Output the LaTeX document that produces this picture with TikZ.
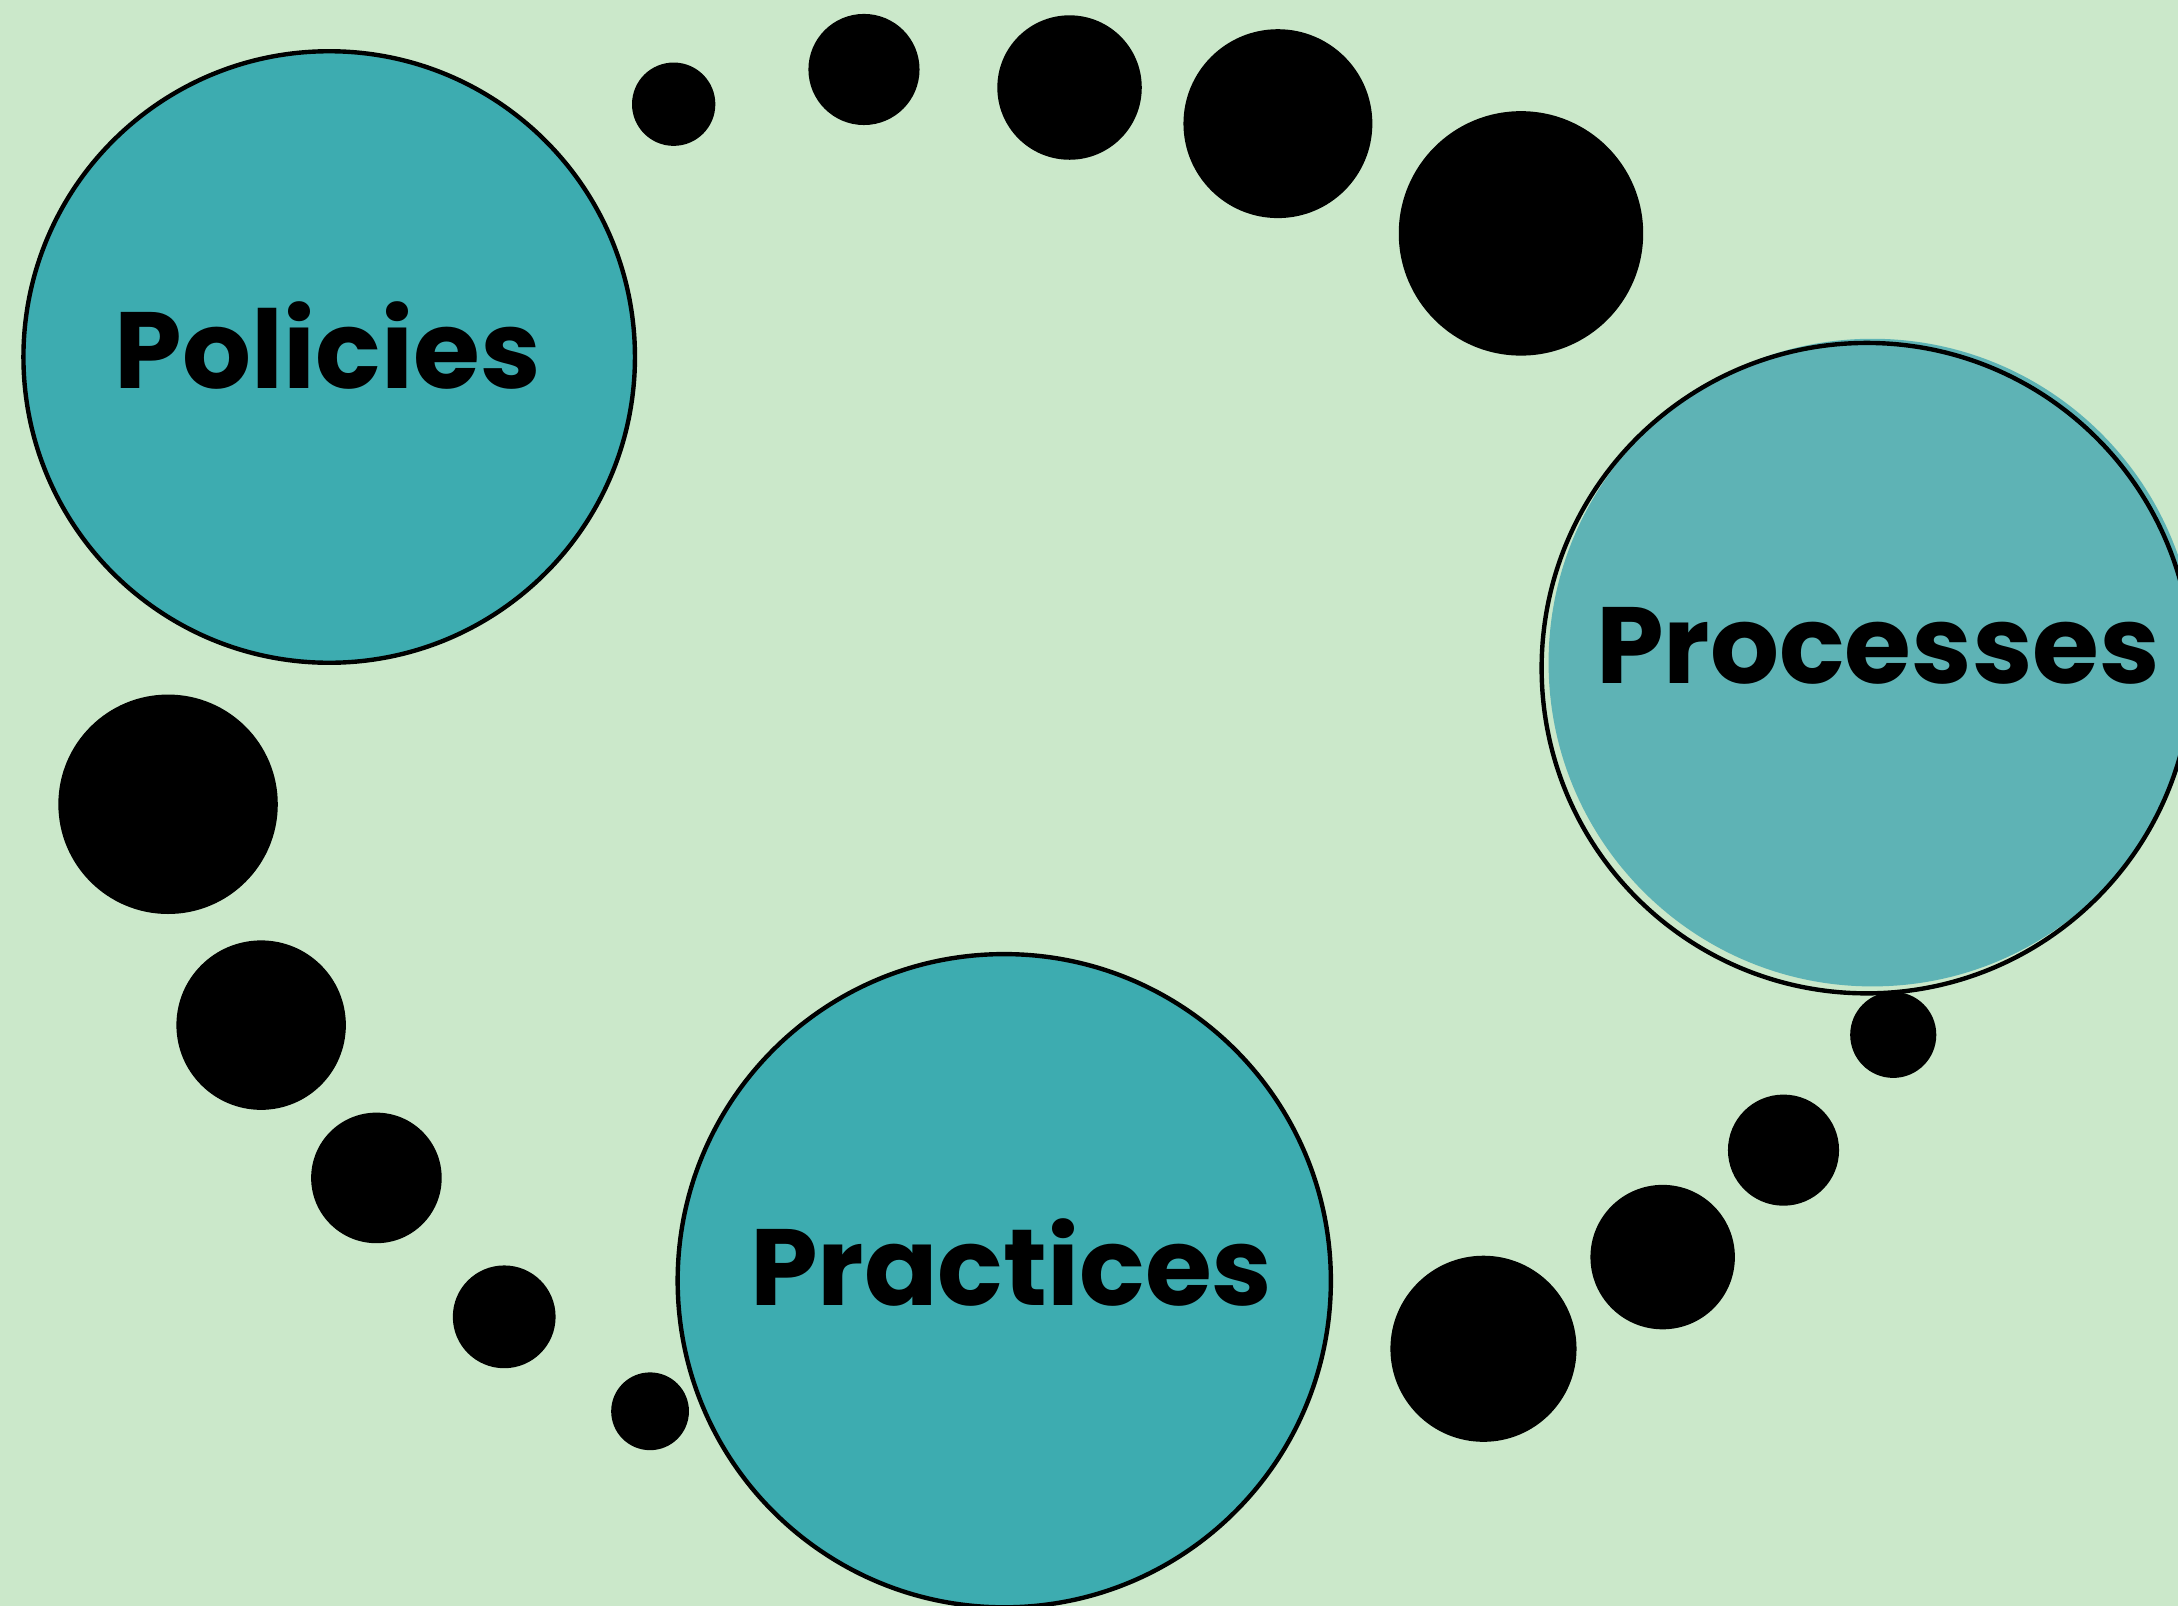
\documentclass[tikz,border=0pt]{standalone}
\usepackage{fontspec}
\IfFontExistsTF{Poppins Bold}{\setmainfont{Poppins}[BoldFont={Poppins Bold}]}{\setmainfont{Poppins}}
\definecolor{bgmint}{HTML}{CBE8CA}
\definecolor{tealdark}{HTML}{3DACB0}
\definecolor{teallight}{HTML}{5EB3B5}
\tikzset{
  bigcircle/.style={circle, draw=black, line width=0.9pt, fill=tealdark, minimum size=#1, inner sep=0pt},
  bigword/.style={font=\fontsize{22.2}{27}\selectfont\bfseries, inner sep=0pt},
  dotfill/.style={fill=black}
}
\begin{document}
\begin{tikzpicture}[x=0.01cm, y=-0.01cm]
    \fill [bgmint] (0,0) rectangle (1568,1156);
    \clip (0,0) rectangle (1568,1156);
    % the three themes
    \node [bigcircle=4.40cm] (policies) at (237,257) {};
    \node [bigcircle=4.70cm] (practices) at (723,922) {};
    \node [circle, fill=teallight, minimum size=4.66cm, inner sep=0pt] (processesfill) at (1348,477) {};
    \node [bigcircle=4.68cm, fill=none] (processes) at (1344,481) {};
    \node [bigword] (policiestext) at (236,249) {Policies};
    \node [bigword] (processestext) at (1352,465) {Processes};
    \node [bigword] (practicestext) at (728,909) {Practices};
    % dots, small to large
    \foreach \x/\y/\r in {485/75/30, 622/50/40, 770/63/52, 920/89/68, 1095/168/88,
                          468/1016/28, 363/948/37, 271/848/47, 188/738/61, 121/579/79,
                          1363/745/31, 1284/828/40, 1197/905/52, 1068/971/67}
        \fill [dotfill] (\x,\y) circle (\r);
\end{tikzpicture}
\end{document}
